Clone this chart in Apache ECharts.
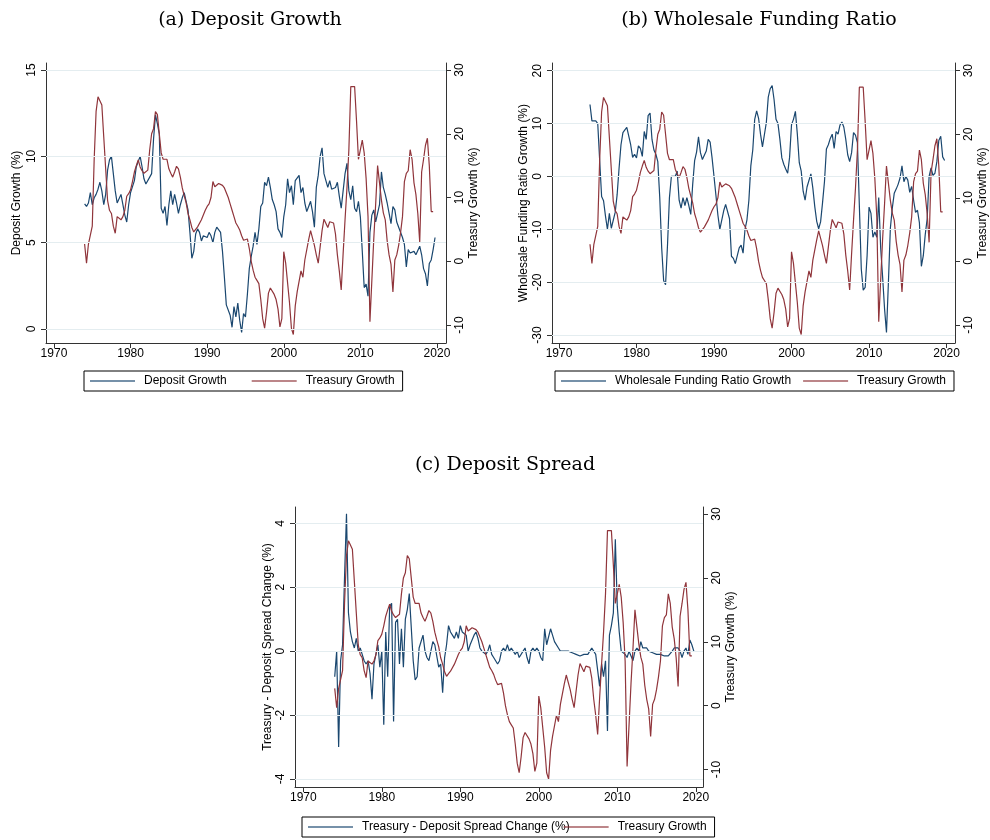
<!DOCTYPE html>
<html>
<head>
<meta charset="utf-8">
<script src="https://cdn.jsdelivr.net/npm/echarts@6/dist/echarts.min.js"></script>
<style>
  html, body { margin: 0; padding: 0; background: #fff; }
  #chart { width: 990px; height: 840px; }
</style>
</head>
<body>
<div id="chart"></div>
<script>
// quarterly observations, 1974Q1 onwards
var startYear = 1974;
var xTicks = [1970, 1980, 1990, 2000, 2010, 2020];

// Treasury growth (%), right axis in every panel
var treasuryGrowth = [
  2.7, -0.3, 2.7, 2.7,
  5.5, 16.0, 23.5, 25.8,
  26.1, 24.5, 19.5, 14.5,
  9.5, 8.0, 7.5, 5.5,
  4.4, 7.0, 6.8, 6.5,
  7.0, 8.0, 10.2, 10.6,
  11.2, 12.5, 14.0, 15.0,
  15.9, 14.8, 14.2, 13.8,
  14.0, 14.3, 17.5, 20.0,
  20.8, 23.5, 23.0, 20.0,
  17.0, 16.0, 16.0, 16.0,
  14.5, 13.8, 13.2, 14.0,
  14.9, 14.5, 13.2, 11.5,
  10.3, 9.2, 7.5, 6.5,
  5.3, 4.6, 5.0, 5.4,
  5.4, 6.5, 6.5, 8.0,
  8.6, 9.0, 10.0, 12.5,
  11.7, 11.8, 12.2, 12.0,
  11.9, 11.5, 11.2, 10.0,
  9.0, 8.0, 7.0, 6.0,
  5.5, 4.9, 4.0, 3.3,
  3.5, 3.5, 2.0, 0.0,
  -1.4, -2.5, -3.0, -3.5,
  -6.0, -9.0, -10.5, -8.0,
  -5.0, -4.2, -4.0, -5.2,
  -6.0, -7.5, -10.3, -9.0,
  1.5, -0.3, 0.0, -6.5,
  -10.5, -11.5, -7.0, -4.8,
  -4.6, -1.5, -2.5, 0.2,
  0.2, 3.4, 4.8, 4.5,
  2.5, 1.0, -0.3, -0.5,
  4.8, 6.6, 6.4, 5.3,
  6.2, 6.2, 6.0, 4.3,
  1.0, -1.5, -4.5, 1.2,
  6.5, 11.5, 17.5, 27.4,
  27.4, 27.4, 22.0, 16.0,
  15.8, 19.0, 17.0, 13.0,
  7.0, -9.5, -9.8, 3.5,
  9.0, 15.0, 14.8, 9.6,
  7.6, 6.5, 3.2, 1.0,
  -0.5, -4.8, 0.2, 1.0,
  2.5, 4.5, 7.0, 12.5,
  13.8, 14.2, 17.5, 16.0,
  12.3, 10.5, 7.5, 3.0,
  14.0, 16.0, 18.2, 19.3,
  15.0, 7.8, 7.8
];

// (a) deposit growth (%)
var depositGrowth = [
  7.25, 7.1, 7.3, 7.9,
  7.2, 7.6, 7.8, 8.1,
  8.5, 8.0, 7.2, 7.8,
  9.2, 9.8, 10.0, 9.0,
  8.0, 7.3, 7.4, 7.8,
  7.2, 6.6, 6.2, 7.2,
  7.9, 8.0, 8.6, 9.4,
  9.7, 10.0, 9.4, 8.7,
  8.4, 8.3, 8.8, 9.0,
  11.0, 12.4, 11.9, 11.3,
  7.0, 6.7, 7.1, 6.0,
  7.2, 8.0, 7.2, 7.8,
  7.3, 6.7, 7.2, 7.6,
  7.9, 8.0, 6.9, 5.6,
  4.1, 4.5, 5.5, 5.8,
  5.6, 5.1, 5.4, 5.5,
  5.3, 5.6, 5.4, 5.0,
  5.6, 5.9, 5.9, 5.6,
  4.5, 3.0, 1.4, 1.3,
  0.8, 0.1, 1.3, 0.7,
  1.5, 0.5, -0.2, 0.9,
  0.7, 2.0, 3.5, 4.2,
  4.8, 5.6, 4.9, 5.8,
  7.1, 7.3, 8.5, 8.3,
  8.8, 8.2, 7.5, 7.2,
  6.8, 5.8, 5.6, 5.3,
  6.5, 7.2, 8.7, 7.9,
  8.3, 7.2, 8.6, 8.6,
  8.9, 7.9, 8.2, 7.3,
  6.8, 7.1, 7.4, 6.8,
  5.9, 8.2, 8.9, 10.0,
  10.5, 9.0, 8.6, 8.2,
  8.6, 8.1, 8.2, 8.2,
  8.5, 7.7, 7.0, 8.0,
  9.0, 9.6, 8.0, 7.5,
  8.3, 7.0, 6.8, 7.4,
  6.5, 4.5, 2.4, 2.6,
  1.9, 5.6, 6.6, 6.9,
  6.2, 6.3, 7.2, 9.1,
  8.2, 7.8, 7.3, 7.2,
  6.1, 7.1, 6.9, 6.2,
  5.9, 6.0, 5.3, 4.9,
  3.6, 4.6, 4.4, 4.4,
  4.5, 4.3, 4.2, 4.8,
  4.3, 3.5, 3.2, 2.5,
  3.8, 4.0, 4.6, 5.3
];

// (b) wholesale funding ratio growth (%)
var wholesaleGrowth = [
  13.6, 10.5, 10.8, 10.5,
  10.0, 3.0, -3.8, -4.6,
  -7.5, -10.0, -7.0, -9.8,
  -10.0, -6.8, -3.5, 1.5,
  6.0, 8.3, 8.8, 9.3,
  9.5, 6.0, 3.6, 4.2,
  3.5, 5.8, 5.3, 3.8,
  8.5, 7.0, 11.5, 12.0,
  7.0, 5.0, 4.2, 2.8,
  -4.0, -13.5, -19.7, -20.5,
  -13.0, -4.0, 0.0, -0.3,
  0.0, 1.0, -4.5, -6.0,
  -4.0, -5.5, -4.0, -5.5,
  -7.2, -1.5, 3.0, 4.6,
  7.5, 4.5, 3.2, 3.0,
  4.8, 7.0, 6.5, 3.5,
  0.0, -3.6, -7.3, -10.0,
  -10.3, -6.5, -5.3, -5.2,
  -8.0, -15.1, -15.5, -16.5,
  -16.5, -13.5, -13.0, -14.5,
  -10.0, -8.2, -4.5, 2.0,
  5.0, 10.8, 12.4, 11.0,
  8.0, 5.6, 5.6, 10.2,
  15.0, 16.6, 17.2, 14.5,
  10.8, 10.0, 7.0, 3.5,
  2.3, 1.4, 0.6, 3.6,
  9.8, 10.8, 12.3, 8.0,
  2.6, 1.0, -2.8, -4.5,
  -2.0, -2.3, 0.5, -2.2,
  -5.7, -8.5, -9.9, -8.6,
  -5.0, -1.0, 5.2, 6.0,
  7.2, 8.0, 5.3, 8.5,
  8.0, 9.7, 10.3, 9.3,
  7.0, 4.1, 2.8, 4.5,
  8.3, 7.8, 6.4, -5.5,
  -17.5, -21.5, -21.0, -15.0,
  -5.8, -7.0, -11.5, -10.5,
  -11.5, -4.0, -13.5, -19.0,
  -25.0, -29.5, -20.0, -9.8,
  -6.0, -3.2, -2.4, -1.5,
  -0.3, 2.0, -1.0, 0.0,
  -0.7, -3.0, -1.9, -4.5,
  -6.8, -6.4, -8.8, -17.0,
  -15.0, -11.0, -8.0, 0.0,
  1.6, 0.2, 0.6, 2.8,
  6.8, 7.6, 3.7, 3.0
];

// (c) treasury - deposit spread change (%)
var spreadChange = [
  -0.8, 0.0, -3.0, -0.3,
  0.2, 2.3, 4.3, 1.2,
  0.6, 0.3, 0.1, 0.4,
  0.0, 0.1, -0.1, -0.3,
  -0.4, -0.3, -0.7, -1.5,
  -0.4, -0.1, 0.2, -0.5,
  0.0, -2.3, 0.6, -0.8,
  1.4, 1.5, -2.2, 0.9,
  1.0, -0.4, 0.7, -0.5,
  1.0, 1.3, 1.8, 1.8,
  -0.3, -0.9, -0.8, 0.1,
  0.1, 0.5, 0.0, -0.2,
  -0.3, 0.0, 0.3, 0.2,
  0.2, -0.5, -0.4, -1.3,
  -0.2, 0.2, 0.8, 0.6,
  0.5, 0.4, 0.6, 0.4,
  0.8, 0.6, 0.6, 0.5,
  0.0, 0.2, 0.2, 0.5,
  0.6, 0.4, 0.1, 0.0,
  0.0, -0.1, 0.0, 0.2,
  -0.1, -0.2, -0.2, -0.4,
  -0.3, 0.0, 0.1, 0.0,
  0.2, 0.0, 0.1, 0.0,
  -0.1, 0.0, -0.2, -0.2,
  0.0, 0.1, -0.2, -0.4,
  0.0, 0.1, 0.0, 0.1,
  0.0, -0.2, -0.3, 0.7,
  0.2, 0.2, 0.7, 0.5,
  0.3, 0.3, 0.1, 0.0,
  0.0, 0.0, 0.0, 0.0,
  -0.05, -0.05, -0.05, -0.1,
  -0.05, -0.15, -0.2, -0.1,
  -0.1, -0.1, 0.0, 0.1,
  0.05, -0.1, -0.6, -1.1,
  -0.4, -0.8, -0.3, -2.5,
  0.5, 0.8, 1.2, 3.5,
  1.4, 0.6, 0.0, 0.05,
  -0.1, -0.2, 0.0, -0.05,
  -0.3, 0.0, 0.1, 0.0,
  0.3, 0.1, 0.05, 0.1,
  0.0, 0.05, -0.05, -0.05,
  -0.1, -0.1, -0.1, -0.15,
  -0.15, -0.2, -0.15, -0.1,
  0.0, 0.1, 0.15, 0.1,
  0.0, -0.2, 0.0, 0.1,
  -0.1, 0.35, 0.2, 0.0
];

var leftTicksA = [0, 5, 10, 15];
var leftTicksB = [-30, -20, -10, 0, 10, 20];
var leftTicksC = [-4, -2, 0, 2, 4];
var rightTicks = [-10, 0, 10, 20, 30];

var navy = '#1a476f';
var maroon = '#90353b';
var axisColor = '#333';
var gridColor = '#e4edf0';
var sans = 'Liberation Sans, Arial, sans-serif';

function pairs(vals) {
  return vals.map(function (v, i) { return [startYear + i * 0.25, v]; });
}

function xAxisFor(gi, min, max) {
  return {
    type: 'value', gridIndex: gi, min: min, max: max,
    axisLine: { onZero: false, lineStyle: { color: axisColor } },
    axisTick: { customValues: xTicks, length: 5, lineStyle: { color: axisColor } },
    axisLabel: {
      customValues: xTicks, margin: 5, color: '#000', fontSize: 12, fontFamily: sans,
      formatter: function (v) { return String(Math.round(v)); }
    },
    splitLine: { show: false }
  };
}

function yAxisFor(gi, pos, min, max, ticks, name, gap) {
  return {
    type: 'value', gridIndex: gi, position: pos, min: min, max: max,
    name: name, nameLocation: 'middle', nameRotate: 90, nameGap: gap,
    nameTextStyle: { color: '#000', fontSize: 12, fontFamily: sans },
    axisLine: { show: true, onZero: false, lineStyle: { color: axisColor } },
    axisTick: { show: true, customValues: ticks, length: 5, lineStyle: { color: axisColor } },
    axisLabel: { customValues: ticks, rotate: 90, margin: 8, color: '#000', fontSize: 12, fontFamily: sans },
    splitLine: { show: false }
  };
}

function gridLines(xi, yi, ticks) {
  return {
    type: 'line', name: 'grid' + xi, xAxisIndex: xi, yAxisIndex: yi, data: [], z: 0,
    silent: true,
    markLine: {
      silent: true, symbol: 'none', label: { show: false },
      lineStyle: { color: gridColor, type: 'solid', width: 1 },
      data: ticks.map(function (t) { return { yAxis: t }; })
    }
  };
}

function lineSeries(name, xi, yi, vals, color) {
  return {
    type: 'line', name: name, xAxisIndex: xi, yAxisIndex: yi,
    data: pairs(vals), showSymbol: false, symbol: 'none', z: 3,
    lineStyle: { color: color, width: 1.2 }, itemStyle: { color: color }
  };
}

function legendFor(names, left, top, gap) {
  return {
    data: names, left: left, top: top, orient: 'horizontal',
    borderColor: '#000', borderWidth: 1, borderRadius: 0,
    padding: [4, 8, 4, 6], itemWidth: 45, itemHeight: 2, icon: 'rect', itemGap: gap,
    itemStyle: { opacity: 0.6 },
    textStyle: { color: '#000', fontSize: 12, fontFamily: sans, padding: [0, 0, 0, 4] },
    selectedMode: false
  };
}

var titleStyle = { color: '#000', fontSize: 19, fontWeight: 'normal', fontFamily: 'DejaVu Serif, serif' };

var chart = echarts.init(document.getElementById('chart'), null, { renderer: 'canvas' });

chart.setOption({
  animation: false,
  backgroundColor: '#fff',
  title: [
    { text: '(a) Deposit Growth', left: 245, top: 6, textAlign: 'center', textStyle: titleStyle },
    { text: '(b) Wholesale Funding Ratio', left: 754, top: 6, textAlign: 'center', textStyle: titleStyle },
    { text: '(c) Deposit Spread', left: 500, top: 451, textAlign: 'center', textStyle: titleStyle }
  ],
  legend: [
    legendFor(['Deposit Growth', 'Treasury Growth'], 84, 371, 25),
    legendFor(['Wholesale Funding Ratio Growth', 'Treasury Growth'], 555, 371, 12),
    legendFor(['Treasury - Deposit Spread Change (%)', 'Treasury Growth'], 302, 817, -6)
  ],
  grid: [
    { left: 46, top: 63, width: 400, height: 280 },
    { left: 552, top: 63, width: 404, height: 280 },
    { left: 295, top: 507, width: 408, height: 280 }
  ],
  xAxis: [
    xAxisFor(0, 1968.96, 2021.18),
    xAxisFor(1, 1969.1, 2021.09),
    xAxisFor(2, 1968.94, 2020.92)
  ],
  yAxis: [
    yAxisFor(0, 'left', -0.81, 15.41, leftTicksA, 'Deposit Growth (%)', 23),
    yAxisFor(0, 'right', -12.82, 31.1, rightTicks, 'Treasury Growth (%)', 22),
    yAxisFor(1, 'left', -31.51, 21.46, leftTicksB, 'Wholesale Funding Ratio Growth (%)', 22),
    yAxisFor(1, 'right', -12.83, 31.21, rightTicks, 'Treasury Growth (%)', 22),
    yAxisFor(2, 'left', -4.25, 4.51, leftTicksC, 'Treasury - Deposit Spread Change (%)', 18),
    yAxisFor(2, 'right', -12.73, 31.1, rightTicks, 'Treasury Growth (%)', 22)
  ],
  series: [
    gridLines(0, 0, leftTicksA),
    gridLines(1, 2, leftTicksB),
    gridLines(2, 4, leftTicksC),
    lineSeries('Deposit Growth', 0, 0, depositGrowth, navy),
    lineSeries('Treasury Growth', 0, 1, treasuryGrowth, maroon),
    lineSeries('Wholesale Funding Ratio Growth', 1, 2, wholesaleGrowth, navy),
    lineSeries('Treasury Growth', 1, 3, treasuryGrowth, maroon),
    lineSeries('Treasury - Deposit Spread Change (%)', 2, 4, spreadChange, navy),
    lineSeries('Treasury Growth', 2, 5, treasuryGrowth, maroon)
  ]
});
</script>
</body>
</html>
